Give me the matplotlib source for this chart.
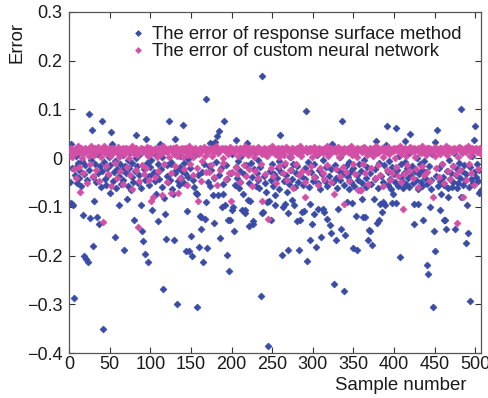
import matplotlib
matplotlib.use("Agg")
import matplotlib.pyplot as plt
from matplotlib.ticker import FuncFormatter

plt.rcParams['font.family'] = ['Liberation Sans', 'DejaVu Sans']

# ---------------- data ----------------
series_labels = ["The error of response surface method",
                 "The error of custom neural network"]

rsm_error = [
    -0.048, -0.092, 0.029, -0.021, -0.096, -0.288, -0.035, 0.004, -0.018, -0.052,
    -0.010, -0.041, 0.012, -0.027, -0.058, -0.006, -0.116, -0.033, -0.200, -0.015,
    -0.207, -0.045, -0.213, 0.091, -0.024, -0.123, -0.004, 0.058, -0.038, -0.180,
    -0.087, -0.012, -0.049, 0.008, -0.121, -0.030, -0.136, -0.017, -0.060, 0.076,
    -0.026, -0.350, -0.008, -0.043, 0.015, -0.055, -0.020, -0.034, 0.002, -0.072,
    -0.014, 0.054, 0.029, -0.047, -0.029, -0.161, -0.005, -0.062, -0.022, 0.010,
    -0.097, -0.036, -0.011, -0.053, -0.025, 0.006, -0.044, -0.189, -0.016, -0.031,
    -0.083, -0.003, -0.057, -0.021, 0.013, -0.066, -0.039, -0.009, -0.048, -0.127,
    -0.026, 0.001, 0.048, -0.017, -0.051, -0.034, 0.009, -0.061, -0.097, -0.149,
    -0.170, -0.023, -0.197, -0.044, 0.039, -0.010, -0.214, -0.037, -0.056, -0.019,
    -0.004, -0.107, -0.033, 0.011, -0.028, -0.047, -0.073, -0.031, -0.130, -0.013,
    -0.042, 0.029, -0.022, -0.059, 0.003, -0.269, -0.081, -0.114, -0.166, -0.036,
    -0.015, -0.050, 0.076, -0.044, -0.007, -0.012, -0.063, -0.073, -0.168, -0.030,
    0.039, -0.024, -0.300, -0.046, -0.056, 0.005, -0.018, -0.040, -0.027, 0.068,
    -0.052, -0.009, -0.031, -0.190, -0.109, -0.002, -0.038, -0.190, -0.021, -0.159,
    -0.200, -0.045, 0.012, -0.060, 0.006, -0.072, -0.074, -0.306, -0.034, -0.182,
    -0.118, -0.120, -0.145, -0.028, -0.213, -0.011, -0.125, 0.122, -0.090, -0.185,
    -0.049, -0.016, 0.031, -0.058, -0.025, 0.030, -0.076, -0.133, -0.041, 0.033,
    -0.008, 0.045, -0.076, 0.056, -0.035, -0.164, -0.020, -0.100, -0.074, -0.053,
    0.076, -0.097, -0.014, -0.043, -0.198, -0.128, -0.231, -0.127, -0.030, 0.008,
    -0.107, -0.100, -0.149, -0.055, -0.019, 0.037, -0.040, -0.006, -0.062, -0.027,
    -0.048, 0.004, -0.107, -0.073, -0.033, -0.107, -0.113, -0.015, 0.031, -0.085,
    -0.140, -0.052, -0.087, -0.010, -0.039, -0.130, -0.136, -0.022, 0.013, -0.058,
    -0.031, -0.045, -0.003, -0.061, -0.018, -0.284, 0.169, -0.113, -0.110, -0.037,
    -0.051, 0.007, -0.070, -0.090, -0.386, -0.088, -0.026, -0.044, -0.128, -0.012,
    -0.057, -0.032, -0.075, -0.097, 0.010, -0.041, -0.020, -0.063, -0.006, 0.048,
    -0.029, -0.198, -0.100, -0.047, -0.015, -0.094, -0.034, -0.070, -0.113, -0.189,
    -0.053, 0.002, -0.024, -0.085, -0.042, -0.011, -0.096, -0.059, -0.030, -0.130,
    -0.017, -0.048, -0.189, -0.128, 0.014, -0.037, -0.111, -0.055, -0.109, -0.021,
    -0.043, 0.097, -0.211, -0.008, -0.060, -0.095, -0.169, -0.028, -0.135, -0.046,
    -0.114, -0.013, -0.039, -0.182, 0.006, -0.052, -0.104, -0.025, -0.064, -0.161,
    -0.033, -0.004, -0.104, -0.110, -0.047, -0.019, -0.125, -0.058, 0.011, -0.036,
    -0.138, -0.023, -0.154, 0.029, -0.050, -0.259, -0.014, -0.041, -0.169, -0.061,
    -0.104, -0.027, 0.003, -0.044, -0.145, 0.076, -0.032, -0.273, -0.055, -0.157,
    -0.016, -0.091, -0.038, -0.007, -0.063, -0.029, -0.049, -0.092, -0.185, -0.020,
    -0.057, 0.009, -0.118, -0.035, -0.189, -0.045, -0.012, -0.066, -0.026, -0.052,
    -0.083, -0.121, -0.003, -0.120, -0.040, -0.059, -0.018, -0.168, -0.147, -0.149,
    -0.031, -0.054, -0.178, 0.012, -0.083, -0.043, -0.022, 0.035, -0.134, -0.061,
    -0.128, -0.010, -0.095, -0.037, -0.110, -0.090, -0.048, -0.015, -0.097, 0.027,
    0.066, -0.056, -0.028, -0.005, -0.042, -0.064, -0.019, -0.092, -0.073, -0.033,
    -0.050, -0.092, 0.062, -0.024, -0.058, 0.004, -0.202, -0.039, -0.013, -0.047,
    -0.062, -0.030, -0.008, 0.035, -0.054, -0.021, -0.041, 0.010, -0.060, 0.050,
    -0.035, -0.017, -0.052, -0.095, -0.135, -0.027, -0.045, 0.001, -0.095, -0.063,
    -0.032, -0.011, -0.049, -0.024, -0.058, -0.127, -0.006, -0.040, -0.029, -0.219,
    -0.053, -0.238, -0.016, -0.100, -0.044, -0.064, 0.008, -0.306, -0.149, -0.191,
    0.033, -0.036, 0.058, -0.057, -0.021, -0.046, -0.107, -0.074, -0.012, -0.038,
    -0.128, -0.055, -0.128, -0.145, -0.026, -0.061, -0.080, -0.004, -0.043, -0.031,
    -0.059, -0.017, -0.048, 0.011, -0.145, -0.034, -0.062, -0.023, -0.051, -0.009,
    -0.040, -0.080, 0.101, -0.027, -0.056, -0.014, -0.045, -0.175, -0.033, -0.097,
    -0.154, -0.060, -0.019, -0.293, -0.042, 0.005, -0.052, -0.028, 0.037, 0.066,
    -0.038, -0.011, -0.047, -0.025, -0.072, -0.070, -0.066,
]

nn_error = [
    0.018, 0.012, 0.021, 0.003, 0.015, -0.022, 0.019, -0.041, 0.010, 0.016,
    0.024, -0.018, -0.069, 0.013, 0.020, 0.001, -0.031, 0.017, 0.011, 0.021,
    0.014, -0.052, 0.019, 0.004, 0.016, -0.012, 0.024, 0.013, -0.037, 0.018,
    0.007, 0.020, -0.025, 0.015, 0.012, 0.023, -0.046, 0.017, 0.002, 0.019,
    0.014, -0.131, 0.024, 0.010, -0.016, 0.018, 0.013, -0.033, 0.020, 0.005,
    0.016, -0.058, 0.021, 0.011, 0.017, -0.009, 0.019, 0.014, -0.040, 0.023,
    0.012, 0.003, -0.027, 0.018, 0.015, 0.020, -0.054, 0.008, 0.016, 0.021,
    -0.019, 0.013, 0.019, 0.001, -0.035, 0.017, 0.024, -0.063, 0.011, 0.018,
    0.014, -0.024, 0.020, 0.006, -0.141, -0.047, 0.016, 0.021, 0.012, -0.015,
    0.019, -0.033, 0.013, 0.017, -0.021, 0.023, 0.004, 0.015, -0.044, 0.020,
    -0.089, 0.011, -0.080, 0.018, 0.014, -0.038, 0.021, 0.002, 0.017, -0.026,
    0.013, 0.020, 0.008, 0.016, -0.076, 0.024, -0.011, 0.015, 0.019, -0.050,
    0.012, 0.018, 0.003, 0.021, -0.030, -0.072, 0.014, 0.020, 0.009, -0.017,
    0.017, 0.023, 0.005, -0.071, 0.015, -0.041, 0.019, 0.013, 0.021, 0.002,
    -0.023, 0.016, 0.020, 0.012, -0.056, 0.018, 0.007, 0.024, -0.013, 0.015,
    0.019, 0.003, -0.034, 0.017, 0.021, 0.013, -0.020, 0.016, -0.088, 0.009,
    0.020, 0.014, -0.047, -0.006, 0.018, 0.023, 0.005, -0.029, 0.015, 0.019,
    0.012, -0.028, 0.021, 0.016, -0.015, 0.004, 0.020, -0.039, 0.013, 0.018,
    0.024, -0.056, 0.010, 0.017, 0.014, -0.024, 0.019, 0.021, 0.001, -0.010,
    0.016, 0.020, -0.043, 0.013, 0.018, 0.008, -0.031, 0.023, -0.088, 0.015,
    -0.028, 0.019, 0.012, 0.017, -0.019, 0.021, -0.032, 0.004, 0.016, 0.020,
    -0.049, 0.014, 0.018, 0.010, -0.014, 0.024, 0.015, -0.036, 0.019, 0.006,
    0.017, -0.022, 0.021, 0.013, -0.058, 0.016, 0.020, 0.002, -0.027, 0.018,
    0.012, 0.023, -0.040, 0.015, 0.019, -0.013, -0.087, 0.008, 0.017, 0.021,
    -0.033, 0.014, 0.018, 0.004, -0.125, 0.020, 0.016, -0.021, 0.012, 0.024,
    -0.037, 0.015, 0.019, 0.009, -0.051, 0.017, 0.021, 0.002, -0.016, 0.018,
    0.013, 0.020, -0.030, 0.016, 0.007, -0.010, 0.023, -0.045, 0.014, 0.019,
    0.017, -0.024, 0.003, 0.021, 0.012, -0.061, 0.018, 0.015, -0.012, 0.020,
    0.010, 0.016, -0.035, 0.024, 0.019, 0.005, -0.026, 0.014, 0.017, -0.048,
    -0.079, 0.021, 0.012, -0.028, 0.018, 0.015, 0.020, -0.017, 0.002, 0.016,
    0.023, -0.039, 0.013, 0.019, 0.008, -0.055, 0.017, 0.021, -0.020, 0.014,
    0.018, 0.010, -0.031, -0.042, 0.020, 0.016, 0.024, -0.014, 0.004, 0.019,
    0.015, -0.050, 0.021, 0.012, 0.017, -0.074, 0.020, -0.023, 0.013, 0.018,
    0.023, 0.003, -0.037, 0.016, 0.019, 0.009, -0.018, -0.094, 0.021, 0.014,
    -0.029, 0.018, 0.012, 0.020, -0.046, 0.017, 0.024, 0.006, -0.011, 0.015,
    0.019, -0.033, 0.013, 0.021, 0.002, -0.066, 0.018, 0.016, -0.066, 0.020,
    0.012, -0.012, 0.023, -0.030, 0.015, 0.019, 0.007, -0.053, 0.017, 0.021,
    0.014, -0.021, 0.018, 0.004, 0.020, -0.040, 0.016, 0.024, 0.010, -0.015,
    0.019, 0.013, -0.034, 0.017, 0.021, 0.003, -0.057, 0.015, 0.020, 0.012,
    -0.025, 0.018, 0.023, 0.008, -0.044, 0.016, 0.019, -0.030, 0.014, 0.021,
    0.001, -0.019, 0.017, 0.020, -0.036, 0.013, 0.024, 0.009, -0.048, 0.018,
    -0.104, -0.032, 0.015, 0.021, 0.005, -0.014, 0.019, 0.016, -0.027, 0.023,
    0.012, 0.018, -0.041, 0.014, 0.020, 0.003, -0.022, 0.017, 0.021, -0.059,
    0.013, 0.019, 0.010, -0.016, 0.024, 0.015, -0.035, 0.018, 0.006, 0.020,
    -0.028, 0.016, 0.021, -0.047, 0.012, 0.019, 0.014, -0.079, 0.017, 0.023,
    0.004, -0.020, 0.018, 0.015, -0.038, 0.021, 0.009, 0.020, -0.013, 0.016,
    0.019, -0.052, 0.013, 0.024, 0.007, -0.026, 0.017, 0.020, -0.042, 0.014,
    0.018, 0.012, -0.017, 0.021, 0.016, -0.033, -0.134, 0.019, 0.002, 0.023,
    -0.024, 0.015, 0.020, 0.010, -0.080, 0.017, 0.021, -0.045, 0.013, 0.018,
    0.024, -0.012, 0.016, 0.005, -0.031, 0.020, 0.014, 0.019, -0.056, 0.017,
    0.021, 0.012, -0.022, 0.018, 0.015, 0.020, 0.008,
]

sample_number = list(range(1, len(rsm_error) + 1))

x_ticks = [0, 50, 100, 150, 200, 250, 300, 350, 400, 450, 500]
y_ticks = [-0.4, -0.3, -0.2, -0.1, 0.0, 0.1, 0.2, 0.3]

# ---------------- plot ----------------
fig = plt.figure(figsize=(4.89, 3.98), dpi=100)
ax = fig.add_axes([69 / 489, 1 - 353 / 398, 412 / 489, 341 / 398])

blue = '#3a4ba6'
magenta = '#d24fa5'

ax.plot(sample_number, rsm_error, linestyle='none', marker='D',
        markersize=3.5, color=blue, markeredgewidth=0.5,
        label=series_labels[0], zorder=2)
ax.plot(sample_number, nn_error, linestyle='none', marker='D',
        markersize=3.5, color=magenta, markeredgewidth=0.5,
        label=series_labels[1], zorder=3)

ax.set_xlim(0, 507)
ax.set_ylim(-0.4, 0.3)
ax.set_xticks(x_ticks)
ax.set_yticks(y_ticks)
ax.yaxis.set_major_formatter(FuncFormatter(lambda v, p: ('%g' % round(v, 3)).replace('-', '\u2212')))

ax.tick_params(direction='in', top=True, right=True, length=4, width=0.8,
               labelsize=13, colors='#333333', labelcolor='#1a1a1a')
ax.tick_params(axis='y', pad=4.5)
ax.tick_params(axis='x', pad=2.5)
for s in ax.spines.values():
    s.set_color('#555555')
    s.set_linewidth(0.9)

ax.set_ylabel('Error', fontsize=13.4, color='#1a1a1a')
ax.yaxis.set_label_coords(-0.105, 0.91)
ax.set_xlabel('Sample number', fontsize=13.4, color='#1a1a1a')
ax.xaxis.set_label_coords(0.806, -0.07)

leg = ax.legend(loc='upper left', bbox_to_anchor=(0.137, 0.98), frameon=False,
                fontsize=13.3, handlelength=0.6, handletextpad=0.45,
                borderaxespad=0.0, labelspacing=0.0, markerscale=0.85)
for t in leg.get_texts():
    t.set_color('#1a1a1a')

fig.savefig('out.png', dpi=100)
